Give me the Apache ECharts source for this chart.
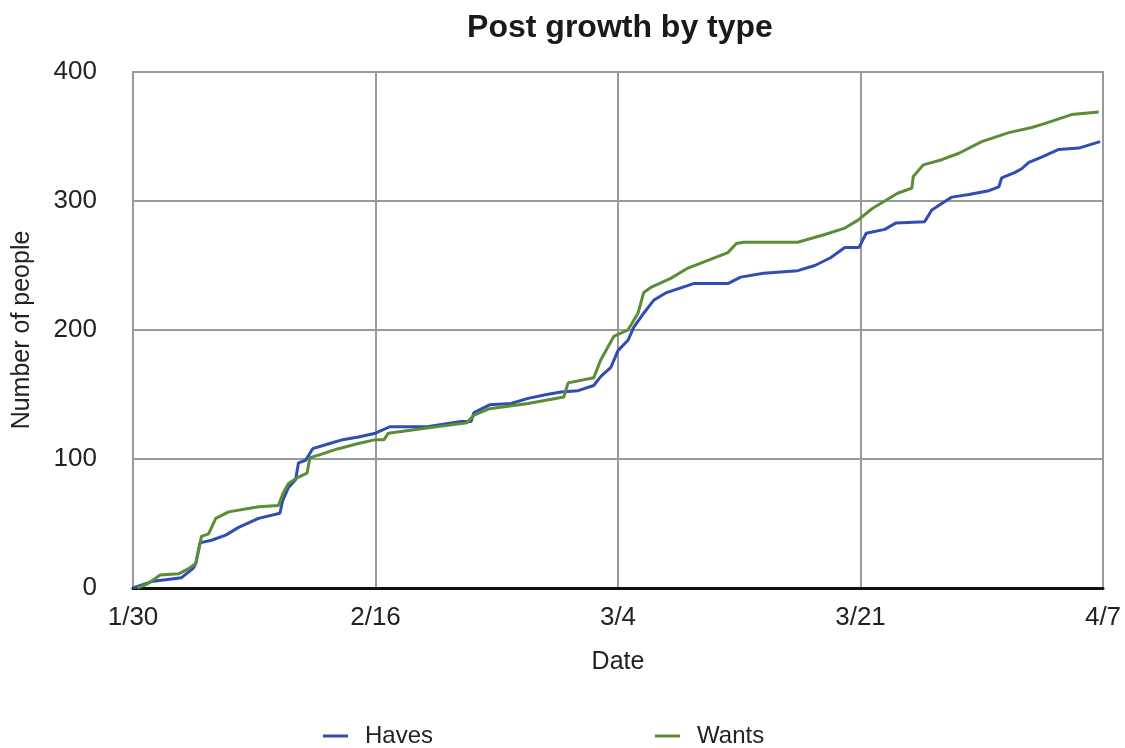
<!DOCTYPE html>
<html>
<head>
<meta charset="utf-8">
<title>Post growth by type</title>
<script src="https://cdn.jsdelivr.net/npm/echarts@6/dist/echarts.min.js"></script>
<style>
  html, body { margin: 0; padding: 0; background: #fff; }
  #chart { width: 1125px; height: 748px; }
</style>
</head>
<body>
<div id="chart"></div>
<script>
// days since 1/30 (leap year, so every tick is 17 days apart)
const tickLabels = ['1/30', '2/16', '3/4', '3/21', '4/7'];

const haveDays = [0, 1.3, 3.4, 4.2, 4.4, 4.7, 5.5, 6.5, 7.4, 8.8, 10.3, 10.5, 10.9, 11.4, 11.6, 12.1, 12.6, 13.5, 14.7, 15.8,
  17, 18, 20.6, 23, 23.7, 23.9, 25, 26.5, 27.7, 29, 30, 31.2, 32.3, 32.8, 33.5, 34, 34.7, 35.1, 35.8, 36.5,
  37.4, 39.3, 41.7, 42.6, 44.2, 46.6, 47.8, 48.9, 49.9, 50.9, 51.4, 52.7, 53.5, 55.5, 56, 56.7, 57.4, 58.6,
  60, 60.7, 60.9, 61.8, 62.3, 62.8, 63.7, 64.9, 66.3, 67.8];
const haveCounts = [0, 5, 8, 15, 19, 35, 37, 41, 47, 54, 58, 68, 78, 84, 97, 99, 108, 111, 115, 117,
  120, 125, 125, 129, 129, 136, 142, 143, 147, 150, 152, 153, 157, 164, 171, 184, 192, 202, 213, 223,
  229, 236, 236, 241, 244, 246, 250, 256, 264, 264, 275, 278, 283, 284, 293, 298, 303, 305,
  308, 311, 318, 322, 325, 330, 334, 340, 341, 346];

const wantDays = [0.3, 1, 1.9, 3.2, 3.9, 4.4, 4.8, 5.3, 5.8, 6.7, 8.8, 10.2, 10.5, 10.9, 11.6, 12.2, 12.4, 13, 14.4, 15.8,
  17, 17.6, 17.9, 20.6, 23.4, 23.9, 25, 27.7, 30.2, 30.5, 32.3, 32.8, 33.7, 34.7, 35.4, 35.8, 36.3, 37.7,
  38.9, 40.3, 41.7, 42.3, 42.8, 46.6, 48.5, 49.9, 50.8, 51.8, 53.6, 54.6, 54.7, 55.4, 56.7, 57.9, 59.5,
  61.4, 63, 63.9, 65.8, 67.7];
const wantCounts = [0, 3, 10, 11, 15, 19, 40, 42, 54, 59, 63, 64, 73, 81, 86, 89, 101, 103, 108, 112,
  115, 115, 120, 124, 128, 134, 139, 143, 148, 159, 163, 177, 195, 200, 213, 229, 233, 240,
  248, 254, 260, 267, 268, 268, 274, 279, 285, 294, 306, 310, 319, 328, 332, 337, 346,
  353, 357, 360, 367, 369];

const pairs = (xs, ys) => xs.map((x, i) => [x, ys[i]]);

const chart = echarts.init(document.getElementById('chart'));
const font = 'Liberation Sans, Arial, sans-serif';

const option = {
  backgroundColor: '#fff',
  animation: false,
  title: {
    text: 'Post growth by type',
    left: 615,
    textAlign: 'center',
    top: 7,
    textStyle: { fontFamily: font, fontSize: 32, fontWeight: 'bold', color: '#1a1a1a' }
  },
  legend: {
    left: 318,
    top: 719,
    itemGap: 222,
    icon: 'rect',
    itemWidth: 25,
    itemHeight: 3,
    textStyle: { fontFamily: font, fontSize: 24, color: '#222', padding: [0, 0, 0, 12] },
    data: ['Haves', 'Wants']
  },
  grid: {
    left: 133,
    right: 22,
    top: 72,
    bottom: 160,
    show: true,
    borderColor: '#999',
    borderWidth: 2
  },
  xAxis: {
    type: 'value',
    min: 0,
    max: 68,
    interval: 17,
    name: 'Date',
    nameLocation: 'middle',
    nameGap: 62,
    nameTextStyle: { fontFamily: font, fontSize: 25, color: '#222' },
    axisLine: { lineStyle: { color: '#111', width: 3 } },
    axisTick: { show: false },
    axisLabel: {
      fontFamily: font, fontSize: 26, color: '#222', margin: 17,
      formatter: v => tickLabels[Math.round(v / 17)]
    },
    splitLine: { show: true, lineStyle: { color: '#999', width: 2 } }
  },
  yAxis: {
    type: 'value',
    min: 0,
    max: 400,
    interval: 100,
    name: 'Number of people',
    nameLocation: 'middle',
    nameGap: 98,
    nameTextStyle: { fontFamily: font, fontSize: 25, color: '#222' },
    axisLine: { show: false },
    axisTick: { show: false },
    axisLabel: { fontFamily: font, fontSize: 26, color: '#222', margin: 36 },
    splitLine: { lineStyle: { color: '#999', width: 2 } }
  },
  series: [
    {
      name: 'Haves',
      type: 'line',
      data: pairs(haveDays, haveCounts),
      showSymbol: false,
      color: '#2f4db3',
      lineStyle: { width: 3 }
    },
    {
      name: 'Wants',
      type: 'line',
      data: pairs(wantDays, wantCounts),
      showSymbol: false,
      color: '#5b8c36',
      lineStyle: { width: 3 }
    }
  ]
};

chart.setOption(option);
window.addEventListener('resize', () => chart.resize());
</script>
</body>
</html>
